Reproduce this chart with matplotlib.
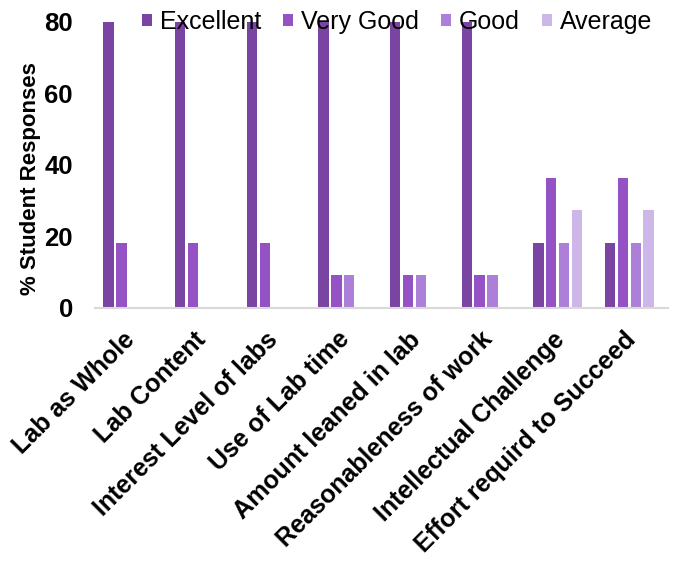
import numpy as np
import matplotlib.pyplot as plt

plt.rcParams['font.family'] = ['Liberation Sans', 'DejaVu Sans']

categories = ['Lab as Whole', 'Lab Content', 'Interest Level of labs',
              'Use of Lab time', 'Amount leaned in lab', 'Reasonableness of work',
              'Intellectual Challenge', 'Effort requird to Succeed']
excellent = [80, 80, 80, 80, 80, 80, 18.18, 18.18]
very_good = [18.18, 18.18, 18.18, 9.09, 9.09, 9.09, 36.36, 36.36]
good = [0, 0, 0, 9.09, 9.09, 9.09, 18.18, 18.18]
average = [0, 0, 0, 0, 0, 0, 27.27, 27.27]

series = [('Excellent', excellent, '#7A45A2'),
          ('Very Good', very_good, '#9452C4'),
          ('Good', good, '#AC80D8'),
          ('Average', average, '#CDB7E8')]

fig = plt.figure(figsize=(6.74, 5.62), dpi=100)
ax = fig.add_axes([0.141, 0.452, 0.850, 0.509])

x = np.arange(len(categories))
slot = 0.18
width = 0.145
for i, (name, vals, col) in enumerate(series):
    ax.bar(x + (i - 1.5) * slot - 0.04, vals, width, color=col, label=name)

ax.set_xlim(-0.5, len(categories) - 0.5)
ax.set_ylim(0, 80)
ax.set_yticks([0, 20, 40, 60, 80])
ax.tick_params(axis='y', length=0, pad=16, labelsize=18.5)
ax.tick_params(axis='x', length=0, pad=20)
for lab in ax.get_yticklabels():
    lab.set_fontweight('bold')
ax.set_xticks(x)
ax.set_xticklabels(categories, rotation=45, ha='right', va='center',
                   rotation_mode='anchor', fontsize=18, fontweight='bold')
ax.set_ylabel('% Student Responses', fontsize=16, fontweight='bold')
ax.yaxis.set_label_coords(-0.095, 0.451)

for s in ['top', 'right', 'left']:
    ax.spines[s].set_visible(False)
ax.spines['bottom'].set_color('#D9D9D9')
ax.spines['bottom'].set_linewidth(1.5)

ax.legend(loc='center', bbox_to_anchor=(0.527, 1.0), ncol=4, frameon=False,
          fontsize=18, handlelength=0.4, handleheight=0.4, handletextpad=0.3,
          columnspacing=0.9)

fig.savefig('out.png', dpi=100)
